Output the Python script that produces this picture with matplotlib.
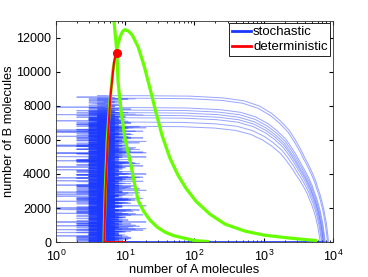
import numpy as np
import matplotlib
matplotlib.use('Agg')
import matplotlib.pyplot as plt
from matplotlib.lines import Line2D

plt.rcParams['font.family'] = ['Liberation Sans', 'DejaVu Sans']
plt.rcParams['mathtext.fontset'] = 'custom'
plt.rcParams['mathtext.rm'] = 'Liberation Sans'
plt.rcParams['mathtext.it'] = 'Liberation Sans'

# copy numbers of A seen while B builds up
a_counts = [5, 4, 6, 3, 7, 5, 2, 6, 4, 8, 5, 3, 6, 9, 4, 5, 3, 6, 7, 3,
            5, 4, 10, 6, 2, 5, 7, 4, 3, 6, 5, 8, 4, 3, 7, 5, 6, 3, 12, 5,
            4, 6, 1, 7, 5, 3, 8, 6, 4, 5, 4, 9, 6, 4, 7, 3, 5, 6, 4, 11,
            5, 3, 7, 2, 6, 5, 4, 8, 6, 3, 5, 4, 7, 4, 6, 9, 5, 3, 6, 4,
            3, 7, 5, 8, 4, 6, 3, 5, 14, 4, 6, 2, 7, 5, 3, 6, 8, 4, 6, 5,
            7, 3, 6, 4, 9, 5, 4, 6, 7, 4, 5, 3, 10, 6, 4, 7, 5, 2, 8, 3,
            6, 4, 5, 7, 4, 6, 3, 8, 5, 4, 6, 3, 7, 5, 9, 4, 3, 6, 5, 7,
            4, 2, 6, 11, 5, 3, 7, 4, 6, 8, 3, 5, 4, 6, 4, 7, 5, 1, 9, 6,
            3, 5, 4, 7, 16, 5, 3, 6, 4, 8, 2, 5, 6, 7, 3, 4, 5, 6, 3, 8,
            4, 7, 5, 3, 10, 6, 4, 5, 18, 6, 3, 7, 4, 5, 4, 13, 6, 3, 5, 3,
            6, 2, 4, 7, 3, 5, 9, 4, 6, 4, 5, 8, 3, 4, 6, 3, 7, 5, 4, 12,
            3, 6, 5, 2, 4, 7, 6, 3, 5, 8, 4, 1, 6, 5, 3, 7, 4, 3, 5, 20]

# level of B where each stochastic run escapes, and the A it reaches
b_switch = [8600, 8450, 7900, 7750, 7600, 7450, 7300, 7050, 6800]
a_end = [8600, 8300, 7700, 7500, 7300, 7200, 7000, 6800, 6500]
offsets = [0, 29, 61, 97, 131, 163, 197, 211, 53]

# decay branch shape: fraction of a_end vs fraction of b_switch
decay_a = [0.002, 0.01, 0.03, 0.06, 0.1, 0.15, 0.2, 0.27, 0.33, 0.4, 0.45, 0.5, 0.55,
           0.6, 0.65, 0.7, 0.75, 0.8, 0.85, 0.89, 0.93, 0.96, 0.985, 1.0]
decay_b = [1.0, 0.997, 0.985, 0.965, 0.93, 0.88, 0.83, 0.765, 0.70, 0.63, 0.58, 0.54, 0.50,
           0.46, 0.42, 0.37, 0.33, 0.28, 0.23, 0.18, 0.13, 0.08, 0.035, 0.0]

# deterministic trajectory
det_a = [10, 5.0, 5.05, 5.2, 5.6, 6.1, 6.9, 7.5]
det_b = [0, 0, 1000, 3000, 6000, 8500, 10600, 11130]

# nullclines
g1_a = [6.88, 7.6, 7.86, 8.68, 9.92, 11.0, 12.1, 13.6, 15.3, 18.5, 22.8, 29, 37.5, 50, 70.5, 102, 162]
g1_b = [13010, 11134, 9490, 7740, 6100, 5250, 4540, 3450, 2460, 1800, 1290, 880, 586, 380, 234, 88, 29]
g2_a = [4.95, 5.0, 5.15, 5.5, 5.95, 6.6, 7.5, 8.5, 9.2, 9.92, 11.1, 12.5, 15.3, 18.7, 22.8, 27.8,
        34.0, 44.3, 57.8, 75.4, 105, 167, 276, 536, 1010, 2390, 5870]
g2_b = [0, 1000, 3000, 6000, 8000, 10000, 11300, 12100, 12380, 12480, 12400, 12190, 11490, 10370,
        9020, 7620, 6270, 4920, 3930, 3160, 2400, 1640, 1055, 645, 410, 234, 88]

blue = (0.1, 0.22, 1.0)

fig = plt.figure(figsize=(3.68, 2.77), dpi=100)
ax = fig.add_axes([0.152, 0.126, 0.753, 0.799])

for bs, ae, off in zip(b_switch, a_end, offsets):
    n = int(bs / 28)
    cloud_a = [a_counts[(off + i) % len(a_counts)] for i in range(n)]
    cloud_b = list(np.linspace(0, bs, n))
    xs = [10] + cloud_a + [f * ae for f in decay_a] + [10]
    ys = [0] + cloud_b + [f * bs for f in decay_b] + [0]
    ax.plot(xs, ys, color=blue, lw=0.7, alpha=0.45)

ax.plot(g2_a, g2_b, color=(0.4, 1.0, 0.0), lw=2.3, solid_capstyle='butt')
ax.plot(g1_a, g1_b, color=(0.4, 1.0, 0.0), lw=2.3, solid_capstyle='butt')
ax.plot(det_a, det_b, color='red', lw=1.5)
ax.plot(det_a[-1], det_b[-1], 'o', color='red', ms=5.5)

ax.set_xscale('log')
ax.set_xlim(1, 1e4)
ax.set_ylim(0, 13000)
ax.set_yticks(range(0, 13000, 2000))
ax.tick_params(direction='in', top=True, right=True, labelsize=9, length=3)
ax.tick_params(axis='x', pad=5)
ax.tick_params(which='minor', direction='in', top=True, right=True, length=1.5)
for s in ax.spines.values():
    s.set_linewidth(0.6)
    s.set_color('#333333')
ax.set_xlabel('number of A molecules', fontsize=9.3, labelpad=0)
ax.set_ylabel('number of B molecules', fontsize=9.3, labelpad=1)

handles = [Line2D([], [], color=blue, lw=2), Line2D([], [], color='red', lw=2)]
leg = ax.legend(handles, ['stochastic', 'deterministic'], loc='upper right', fontsize=9.5,
                fancybox=False, framealpha=1, edgecolor='black', handlelength=1.45,
                handletextpad=0.15, borderpad=0.2, labelspacing=0.2, borderaxespad=0.2)
leg.get_frame().set_linewidth(0.6)

fig.savefig('out.png', dpi=100)
